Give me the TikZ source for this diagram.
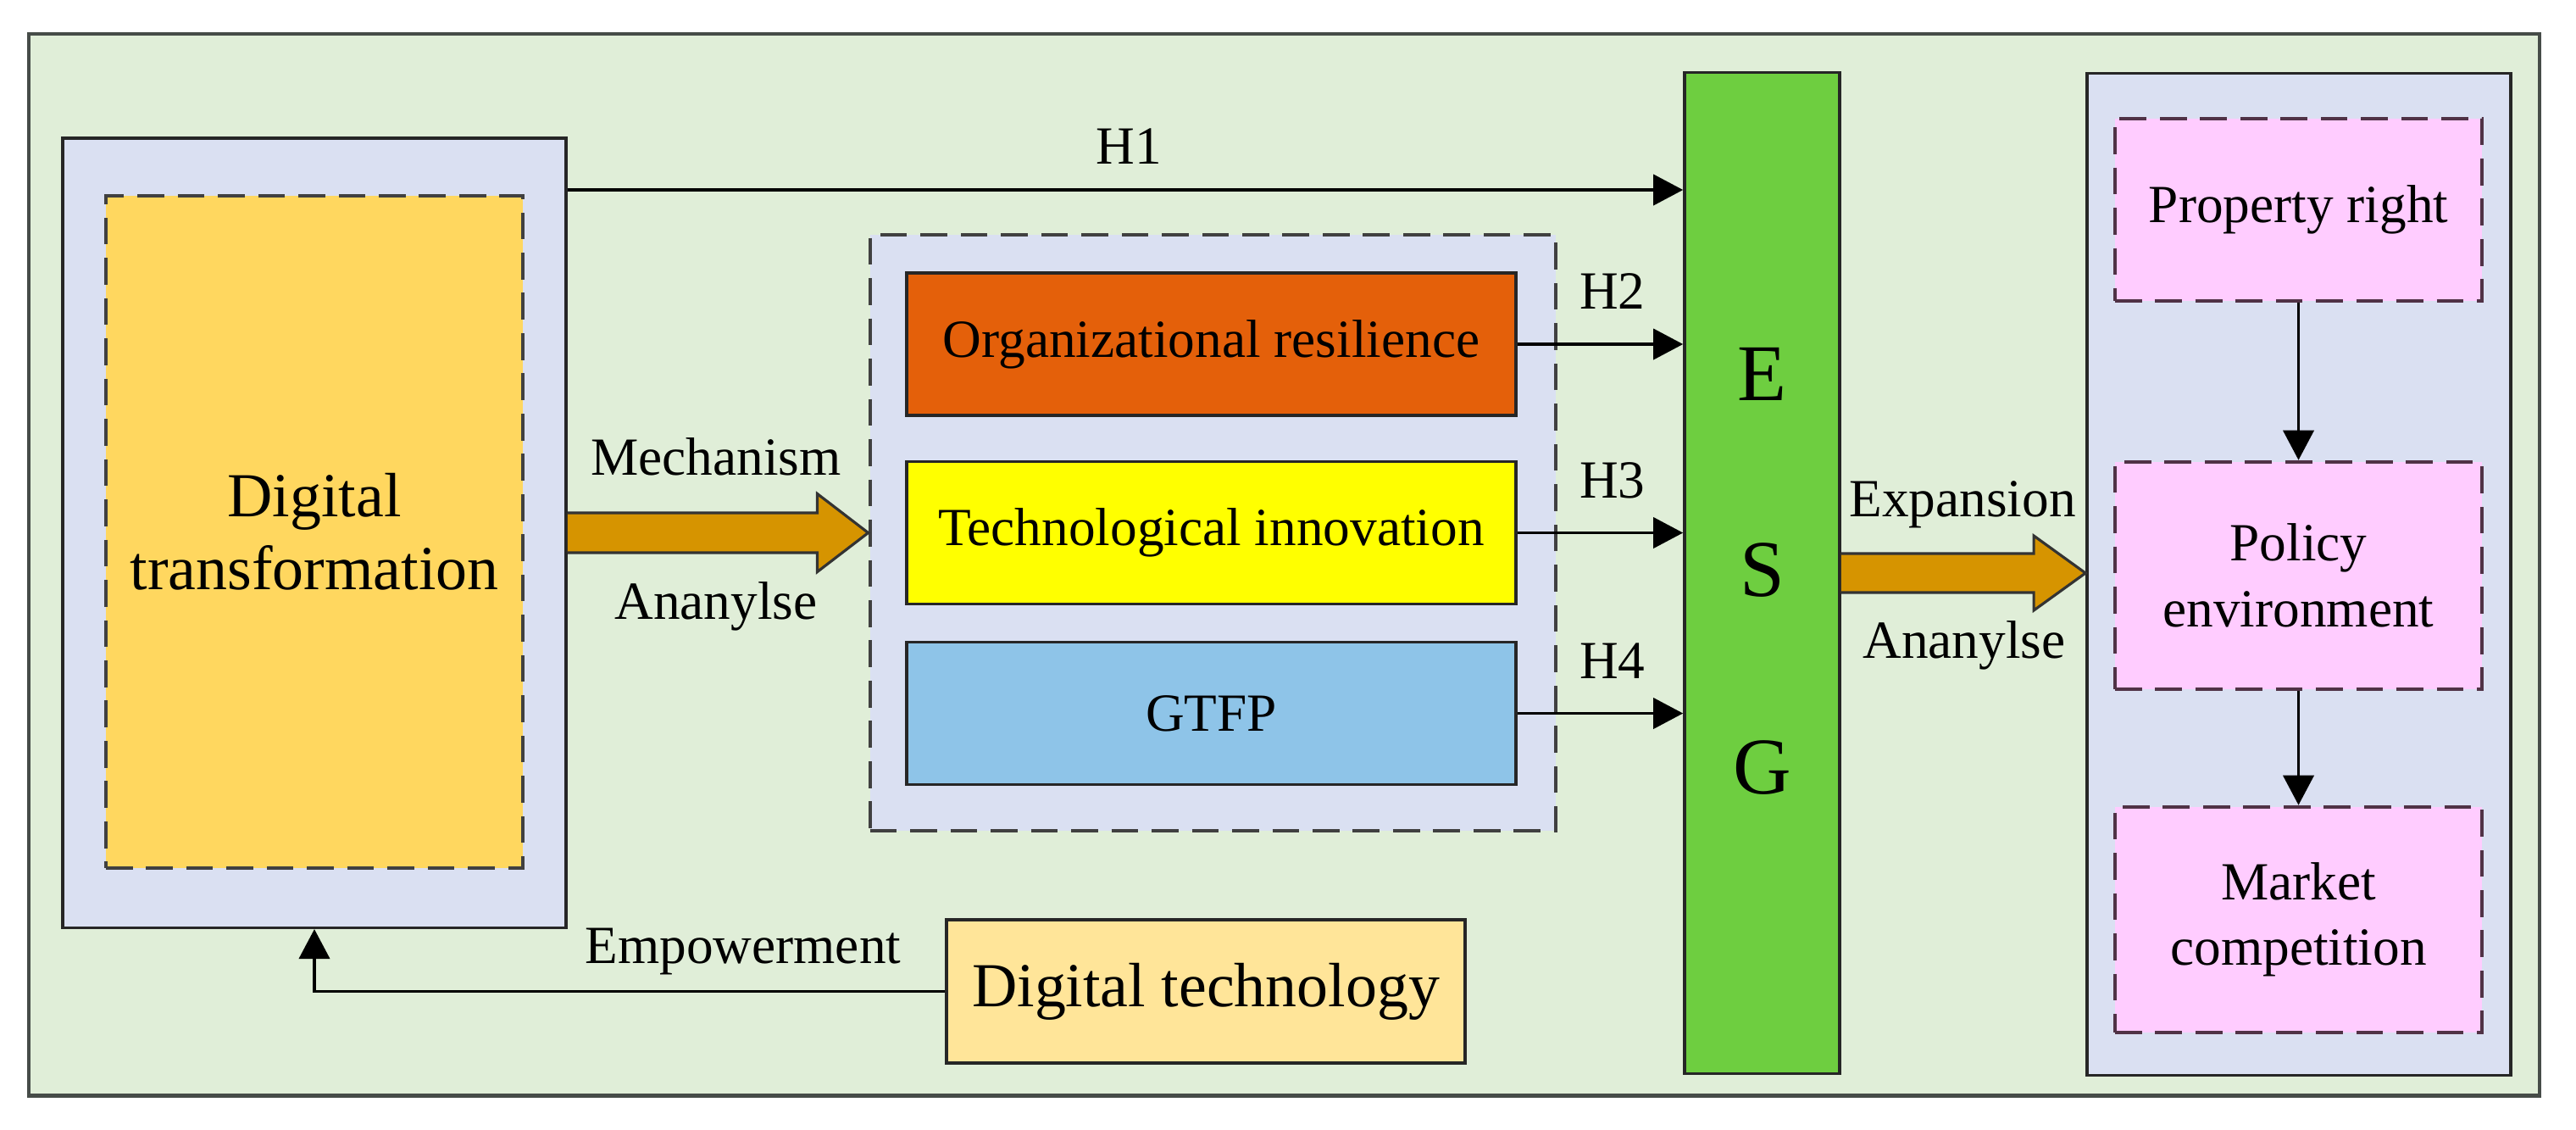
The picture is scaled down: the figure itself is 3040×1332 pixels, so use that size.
\documentclass[tikz,border=0pt]{standalone}
\usepackage{fontspec}
\setmainfont{Liberation Serif}
\usepackage{tikz}
\usetikzlibrary{calc, positioning, arrows.meta}

\definecolor{framebg}{RGB}{224,238,216}
\definecolor{framegray}{RGB}{70,76,72}
\definecolor{lavender}{RGB}{218,224,242}
\definecolor{dtyellow}{RGB}{255,215,95}
\definecolor{orgorange}{RGB}{228,96,10}
\definecolor{techyellow}{RGB}{255,255,0}
\definecolor{gtfpblue}{RGB}{142,196,232}
\definecolor{esggreen}{RGB}{110,206,64}
\definecolor{pinkfill}{RGB}{255,204,255}
\definecolor{pinkline}{RGB}{80,50,70}
\definecolor{dtechfill}{RGB}{255,229,153}
\definecolor{arrowgold}{RGB}{214,148,0}

\begin{document}
\begin{tikzpicture}[x=0.01cm, y=-0.01cm,
  every node/.style={font=\fontsize{18}{22}\selectfont},
  solidbox/.style={draw=black!85, line width=1pt, inner sep=0pt},
  dashbox/.style={draw=black!75, line width=1.25pt, dash pattern=on 9pt off 4.5pt, inner sep=0pt},
  pinkbox/.style={dashbox, draw=pinkline, fill=pinkfill, minimum width=4.33cm, align=center},
  midbox/.style={solidbox, minimum width=7.19cm, minimum height=1.68cm},
  bigletter/.style={font=\fontsize{27}{30}\selectfont},
  conn/.style={line width=1.1pt, -{Triangle[length=0.35cm, width=0.36cm]}},
  fatarr/.style={draw=black!80, line width=0.9pt, fill=arrowgold}]

  \useasboundingbox (0,0) rectangle (3040,1332);
  \node[solidbox, draw=framegray, line width=1.2pt, fill=framebg,
    minimum width=29.61cm, minimum height=12.52cm] (frame) at (1515.5,666) {};

  \node[solidbox, fill=lavender, minimum width=5.94cm, minimum height=9.31cm] (dtout) at (371,628.5) {};
  \node[dashbox, fill=dtyellow, minimum width=4.92cm, minimum height=7.93cm, align=center,
    font=\fontsize{21}{24.5}\selectfont] (dt) at (371,627.5) {Digital\\transformation};

  \node[dashbox, fill=lavender, minimum width=8.09cm, minimum height=7.03cm] (mech) at (1431.5,628.5) {};
  \node[midbox, fill=orgorange] (org) at (1429.5,406) {Organizational resilience};
  \node[midbox, fill=techyellow] (tech) at (1429.5,628.5) {Technological innovation};
  \node[midbox, fill=gtfpblue] (gtfp) at (1429.5,841.5) {GTFP};

  \node[solidbox, fill=esggreen, minimum width=1.83cm, minimum height=11.8cm] (esg) at (2079.5,676) {};
  \foreach \l/\y in {E/441,S/673,G/906}
    \node[bigletter] (esg\l) at (2079.5,\y) {\l};

  \node[solidbox, fill=lavender, minimum width=5cm, minimum height=11.81cm] (modout) at (2713,677.5) {};
  \node[pinkbox, minimum height=2.15cm] (prop) at (2712.5,247.5) {Property right};
  \node[pinkbox, minimum height=2.68cm] (policy) at (2712.5,679) {Policy\\environment};
  \node[pinkbox, minimum height=2.66cm] (market) at (2712.5,1085) {Market\\competition};

  \node[solidbox, fill=dtechfill, minimum width=6.12cm, minimum height=1.69cm,
    font=\fontsize{21}{24.5}\selectfont] (dtech) at (1423,1169.5) {Digital technology};

  % hypotheses
  \coordinate (h1lev) at (1000,224);
  \draw[conn] (dtout.east |- h1lev) -- (esg.west |- h1lev)
    node[pos=0.503, anchor=base, yshift=0.31cm] (h1) {H1};
  \foreach \n/\h in {org/2,tech/3,gtfp/4}
    \draw[conn] (\n.east) -- (esg.west |- \n.east)
      node[pos=0.573, anchor=base, yshift=0.41cm] (h\h) {H\h};

  \draw[conn] (dtech.west) -| (dtout.south)
    node[pos=0.16, anchor=base, yshift=0.33cm] (emp) {Empowerment};
  \draw[conn] (prop) -- (policy);
  \draw[conn] (policy) -- (market);

  % wide arrows
  \draw[fatarr] let \p1=(dtout.east), \p2=(mech.west) in
    (\x1,{\y1+0.235cm}) -- ({\x2-0.6cm},{\y1+0.235cm}) -- ({\x2-0.6cm},{\y1+0.46cm})
    -- (\x2,\y1) -- ({\x2-0.6cm},{\y1-0.46cm}) -- ({\x2-0.6cm},{\y1-0.235cm}) -- (\x1,{\y1-0.235cm});
  \draw[fatarr] let \p1=(esg.east), \p2=(modout.west) in
    (\x1,{\y1+0.23cm}) -- ({\x2-0.61cm},{\y1+0.23cm}) -- ({\x2-0.61cm},{\y1+0.44cm})
    -- (\x2,\y1) -- ({\x2-0.61cm},{\y1-0.44cm}) -- ({\x2-0.61cm},{\y1-0.23cm}) -- (\x1,{\y1-0.23cm});

  \node[anchor=base] (mechlbl) at (845,560) {Mechanism};
  \node[anchor=base] (analbl) at (845,730) {Ananylse};
  \node[anchor=base] (explbl) at (2316,609) {Expansion};
  \node[anchor=base] (analbr) at (2318,776) {Ananylse};
\end{tikzpicture}
\end{document}
